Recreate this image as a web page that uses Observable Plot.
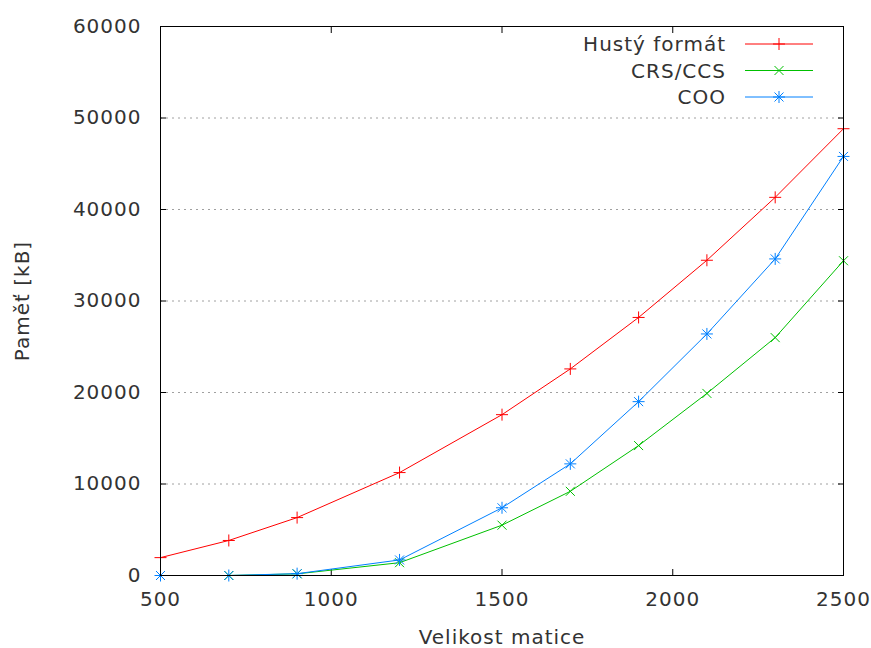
<!DOCTYPE html>
<html><head><meta charset="utf-8">
<script src="https://cdn.jsdelivr.net/npm/d3@7"></script>
<script src="https://cdn.jsdelivr.net/npm/@observablehq/plot@0.6"></script>
<style>body{margin:0;background:#fff} svg text{letter-spacing:1px}</style>
</head><body><div id="chart"></div>
<script>
const sizes = [500, 700, 900, 1200, 1500, 1700, 1900, 2100, 2300, 2500];
const dense = [1953, 3828, 6328, 11250, 17578, 22578, 28203, 34453, 41328, 48828];
const crs = [0, 0, 180, 1400, 5500, 9200, 14200, 19900, 26000, 34400];
const coo = [0, 0, 200, 1700, 7400, 12200, 19000, 26400, 34600, 45800];
const seriesNames = ["Hustý formát", "CRS/CCS", "COO"];
const seriesColors = ["#ff0000", "#00c000", "#0080ff"];
const xTicks = [500, 1000, 1500, 2000, 2500];
const yTicks = [0, 10000, 20000, 30000, 40000, 50000, 60000];
const gridTicks = [10000, 20000, 30000, 40000, 50000];

function mk(plus, times) {
  return {draw(ctx, size) {
    const r = Math.sqrt(size / Math.PI);
    if (plus) { ctx.moveTo(-r, 0); ctx.lineTo(r, 0); ctx.moveTo(0, -r); ctx.lineTo(0, r); }
    if (times) { const d = r * 0.75; ctx.moveTo(-d, -d); ctx.lineTo(d, d); ctx.moveTo(-d, d); ctx.lineTo(d, -d); }
  }};
}
const symbols = [mk(true, false), mk(false, true), mk(true, true)];
const values = [dense, crs, coo];
const tables = values.map(v => sizes.map((s, i) => ({x: s, y: v[i]})));

const font = "DejaVu Sans, sans-serif";
const tc = "#333";

function legend(index, scales, vals, dims) {
  const g = d3.create("svg:g");
  const xr = dims.width - dims.marginRight;
  seriesNames.forEach((name, i) => {
    const y = dims.marginTop + 18 + i * 26.5;
    g.append("text").attr("x", xr - 117).attr("y", y).attr("dy", "0.36em")
      .attr("text-anchor", "end").attr("font-size", 20).attr("font-family", font)
      .attr("fill", tc).text(name);
    g.append("line").attr("x1", xr - 98).attr("x2", xr - 30).attr("y1", y).attr("y2", y)
      .attr("stroke", seriesColors[i]).attr("stroke-width", 1);
    g.append("path").attr("transform", `translate(${xr - 64},${y})`)
      .attr("d", d3.symbol(symbols[i], Math.PI * 36)())
      .attr("stroke", seriesColors[i]).attr("fill", "none").attr("stroke-width", 1);
  });
  return g.node();
}

const fmt = d => String(d);
const marks = [
  Plot.gridY(gridTicks, {stroke: "#a0a0a0", strokeOpacity: 1, strokeDasharray: "2,4"}),
  Plot.axisY({ticks: yTicks, tickSize: 0, tickPadding: 19, fontSize: 20, color: tc, label: null, tickFormat: fmt}),
  Plot.axisY({ticks: yTicks, anchor: "left", tickSize: -6, tickFormat: () => "", label: null, stroke: "black"}),
  Plot.axisY({ticks: yTicks, anchor: "right", tickSize: -6, tickFormat: () => "", label: null, stroke: "black"}),
  Plot.axisX({ticks: xTicks, tickSize: 0, tickPadding: 16, fontSize: 20, color: tc, label: null, tickFormat: fmt}),
  Plot.axisX({ticks: xTicks, anchor: "bottom", tickSize: -6, tickFormat: () => "", label: null, stroke: "black"}),
  Plot.axisX({ticks: xTicks, anchor: "top", tickSize: -6, tickFormat: () => "", label: null, stroke: "black"}),
];
tables.forEach((t, i) => {
  marks.push(Plot.line(t, {x: "x", y: "y", stroke: seriesColors[i], strokeWidth: 1, clip: true}));
  marks.push(Plot.dot(t, {x: "x", y: "y", stroke: seriesColors[i], fill: "none", strokeWidth: 1, r: 6, symbol: symbols[i]}));
});
marks.push(Plot.frame({stroke: "black", strokeWidth: 1}));
marks.push(legend);
marks.push(Plot.text(["Velikost matice"], {frameAnchor: "bottom", dy: 62, fontSize: 20, fill: tc, lineAnchor: "middle", textAnchor: "middle"}));
marks.push(Plot.text(["Paměť [kB]"], {frameAnchor: "left", dx: -138, rotate: -90, fontSize: 20, fill: tc, lineAnchor: "middle", textAnchor: "middle"}));

const plot = Plot.plot({
  width: 871, height: 648,
  marginLeft: 160, marginRight: 28, marginTop: 26, marginBottom: 73,
  style: {fontFamily: font, background: "#fff"},
  x: {domain: [500, 2500], axis: null},
  y: {domain: [0, 60000], axis: null},
  marks
});
document.getElementById("chart").appendChild(plot);
</script></body></html>
